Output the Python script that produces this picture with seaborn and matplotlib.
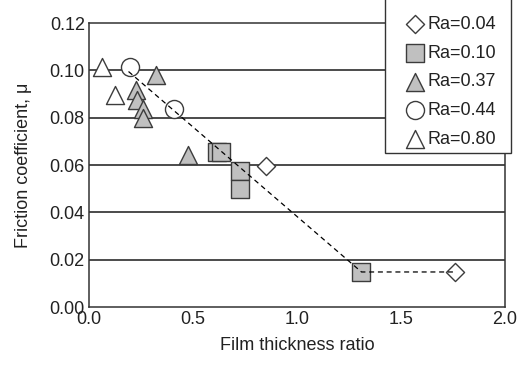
import matplotlib
matplotlib.use("Agg")
import matplotlib.pyplot as plt
from matplotlib.patches import Rectangle
import seaborn as sns
import pandas as pd

sns.set_style("white")
plt.rcParams['font.family'] = ['Liberation Sans', 'DejaVu Sans']

# Data
ra004_x = [0.85, 1.76]
ra004_y = [0.0596, 0.0148]
ra010_x = [0.615, 0.635, 0.726, 0.726, 1.31]
ra010_y = [0.0655, 0.0655, 0.0575, 0.0500, 0.0148]
ra037_x = [0.32, 0.226, 0.23, 0.26, 0.26, 0.475]
ra037_y = [0.098, 0.0917, 0.0875, 0.0838, 0.080, 0.0643]
ra044_x = [0.197, 0.41]
ra044_y = [0.1015, 0.0837]
ra080_x = [0.062, 0.125]
ra080_y = [0.1015, 0.0896]
trend_x = [0.19, 1.31, 1.76]
trend_y = [0.0995, 0.0148, 0.0148]

labels = ["Ra=0.04", "Ra=0.10", "Ra=0.37", "Ra=0.44", "Ra=0.80"]
x_ticks = [0.0, 0.5, 1.0, 1.5, 2.0]
y_ticks = [0.00, 0.02, 0.04, 0.06, 0.08, 0.10, 0.12]

W, H = 518, 367
fig = plt.figure(figsize=(W/100, H/100), dpi=100)
ax = fig.add_axes([89/W, 1-307/H, (505-89)/W, (307-23)/H])

gray = "#c0c0c0"
edge = "#3c3c3c"
series = [
    (ra004_x, ra004_y, "D", "white", 85, labels[0]),
    (ra010_x, ra010_y, "s", gray, 169, labels[1]),
    (ra037_x, ra037_y, "^", gray, 169, labels[2]),
    (ra044_x, ra044_y, "o", "white", 169, labels[3]),
    (ra080_x, ra080_y, "^", "white", 169, labels[4]),
]
for xs, ys, m, fc, s, lab in series:
    df = pd.DataFrame({"x": xs, "y": ys})
    sns.scatterplot(data=df, x="x", y="y", marker=m, color=fc, edgecolor=edge,
                    linewidth=1.0, s=s, label=lab, ax=ax, zorder=3)

tdf = pd.DataFrame({"x": trend_x, "y": trend_y})
sns.lineplot(data=tdf, x="x", y="y", sort=False, color="black", linewidth=0.9,
             linestyle=(0, (4, 3)), ax=ax, zorder=4, legend=False)

ax.set_xlim(0, 2.0)
ax.set_ylim(0, 0.12)
ax.set_xticks(x_ticks)
ax.set_xticklabels([f"{v:.1f}" for v in x_ticks])
ax.set_yticks(y_ticks)
ax.set_yticklabels([f"{v:.2f}" for v in y_ticks])
for v in y_ticks[1:-1]:
    ax.axhline(v, color="#1a1a1a", linewidth=1.1, zorder=1)
ax.tick_params(axis="x", direction="in", length=7, width=1, colors="#222222",
               labelsize=13, pad=3, labelcolor="#222222")
ax.tick_params(axis="y", length=0, labelsize=13, pad=3, labelcolor="#222222")
for sp in ax.spines.values():
    sp.set_color("#333333")
    sp.set_linewidth(1.1)

ax.set_xlabel("Film thickness ratio", fontsize=13, color="#222222", labelpad=6)
ax.set_ylabel("Friction coefficient, μ", fontsize=13, color="#222222", labelpad=13)

# legend box
box = Rectangle((385/W, 1-153/H), (511-385)/W, 160/H, transform=fig.transFigure,
                facecolor="white", edgecolor="#333333", linewidth=1.0,
                clip_on=False, zorder=9)
ax.add_artist(box)

leg = ax.legend(loc="upper left", bbox_to_anchor=(403/W, 1-16/H),
                bbox_transform=fig.transFigure, borderaxespad=0, borderpad=0,
                fontsize=13, frameon=False, handletextpad=0.0,
                handlelength=1.33, labelspacing=0.65)
leg.set_zorder(10)
for t in leg.get_texts():
    t.set_color("#222222")

fig.savefig("out.png", dpi=100)
